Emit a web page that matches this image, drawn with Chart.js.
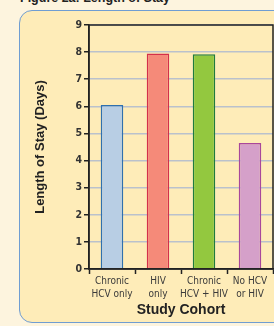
<!DOCTYPE html>
<html lang="en">

<head>
    <meta charset="UTF-8">
    <title>Figure 2a: Length of Stay</title>
    <script src="https://cdn.jsdelivr.net/npm/chart.js"></script>
    <style>
        html, body {
            margin: 0;
            padding: 0;
            width: 274px;
            height: 326px;
            overflow: hidden;
            background: #fdf4de;
            position: relative;
        }

        .titulo {
            position: absolute;
            left: 20px;
            top: -8px;
            font: bold 12.5px "Liberation Sans", Arial, sans-serif;
            line-height: 12px;
            color: #222;
            white-space: nowrap;
        }

        .painel {
            position: absolute;
            left: 19px;
            top: 10px;
            width: 290px;
            height: 311px;
            border: 1.5px solid #6f9dd2;
            border-radius: 13px;
            background: #feecb8;
        }

        #grafico {
            position: absolute;
            left: 0;
            top: 0;
        }
    </style>
</head>

<body>

    <div class="titulo">Figure 2a: Length of Stay</div>
    <div class="painel"></div>
    <canvas id="grafico" width="274" height="326"></canvas>

<script>

    const grupos = [['Chronic', 'HCV only'], ['HIV', 'only'], ['Chronic', 'HCV + HIV'], ['No HCV', 'or HIV']];
    const dias = [6.05, 7.95, 7.92, 4.65];
    const coresFundo = ['#b8cee4', '#f58a79', '#93c83f', '#d5a0c9'];
    const coresBorda = ['#2f70ae', '#d3304b', '#1f7b3d', '#a9479b'];
    const marcasY = [0, 1, 2, 3, 4, 5, 6, 7, 8, 9];

    const fonteEstreita = '"Liberation Sans Narrow", "DejaVu Sans Condensed", sans-serif';
    const fonteNormal = '"Liberation Sans", Arial, sans-serif';

    // moldura preta em volta da area do grafico
    const moldura = {
        id: 'moldura',
        afterDraw(chart) {
            const a = chart.chartArea;
            const ctx = chart.ctx;
            ctx.save();
            ctx.strokeStyle = '#222';
            ctx.lineWidth = 1.5;
            ctx.strokeRect(a.left, a.top, a.right - a.left, a.bottom - a.top);
            ctx.restore();
        }
    };

    const ctx = document.getElementById('grafico').getContext('2d');
    new Chart(ctx, {
        type: 'bar',
        data: {
            labels: grupos,
            datasets: [{
                data: dias,
                backgroundColor: coresFundo,
                borderColor: coresBorda,
                borderWidth: 1.5,
                borderSkipped: 'bottom',
                categoryPercentage: 1,
                barPercentage: 0.49
            }]
        },
        options: {
            responsive: false,
            animation: false,
            layout: {
                padding: { left: 0, top: 25, right: 1, bottom: 0 }
            },
            plugins: {
                legend: { display: false },
                tooltip: { enabled: false }
            },
            scales: {
                x: {
                    afterFit: function (scale) { scale.height = 57; },
                    grid: {
                        offset: true,
                        drawOnChartArea: false,
                        drawTicks: true,
                        tickLength: 5,
                        tickColor: '#222',
                        tickWidth: 1.5
                    },
                    border: { color: '#222', width: 1.5 },
                    ticks: {
                        color: '#3a3a3a',
                        padding: 1,
                        maxRotation: 0,
                        autoSkip: false,
                        font: { family: fonteEstreita, size: 10, lineHeight: 1.3 }
                    },
                    title: {
                        display: true,
                        text: 'Study Cohort',
                        color: '#222',
                        font: { family: fonteNormal, size: 14, weight: 'bold' },
                        padding: { top: 0, bottom: 7 }
                    }
                },
                y: {
                    min: 0,
                    max: 9,
                    afterFit: function (scale) { scale.width = 89; },
                    afterBuildTicks: function (scale) {
                        scale.ticks = marcasY.map(v => ({ value: v }));
                    },
                    grid: {
                        color: '#bac1cc',
                        lineWidth: 1.5,
                        drawTicks: true,
                        tickLength: 5,
                        tickColor: '#222',
                        tickWidth: 1.5
                    },
                    border: { color: '#222', width: 1.5 },
                    ticks: {
                        color: '#333',
                        padding: 2,
                        font: { family: fonteEstreita, size: 10.5, weight: 'bold' }
                    },
                    title: {
                        display: true,
                        text: 'Length of Stay (Days)',
                        color: '#222',
                        font: { family: fonteNormal, size: 13, weight: 'bold' },
                        padding: { top: 33, bottom: 0 }
                    }
                }
            }
        },
        plugins: [moldura]
    });

</script>

</body>

</html>
